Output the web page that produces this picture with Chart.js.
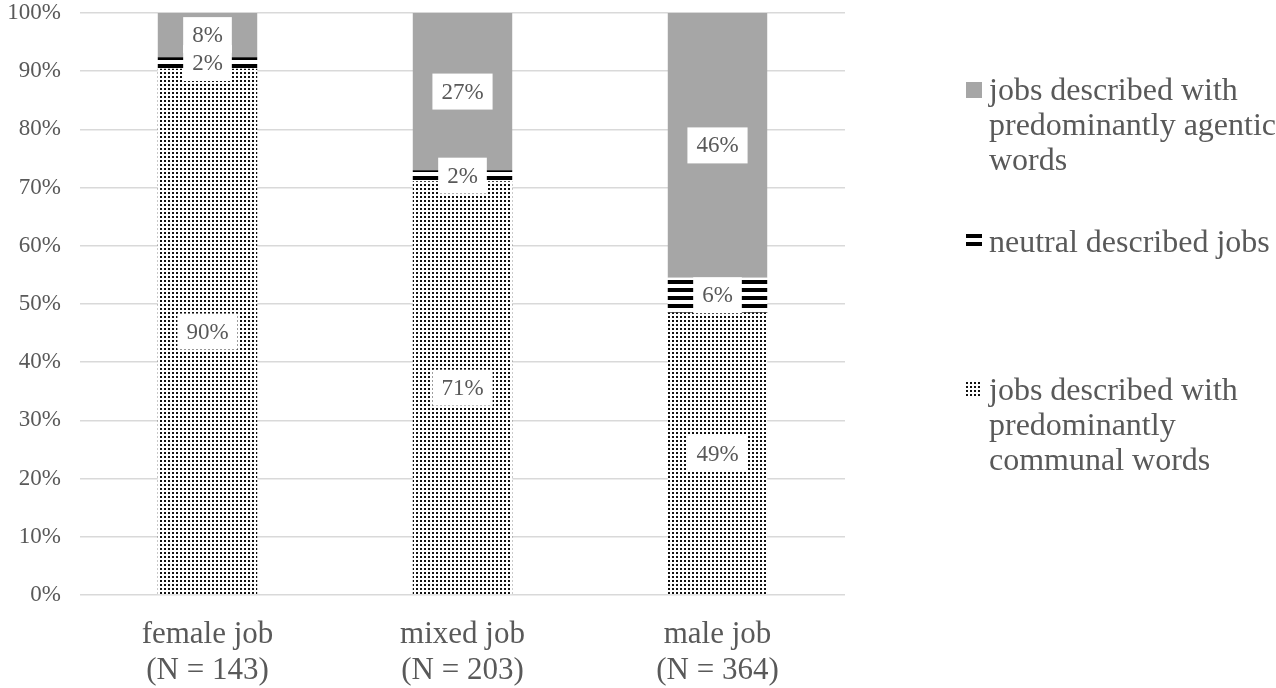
<!DOCTYPE html>
<html>
<head>
<meta charset="utf-8">
<script src="https://cdn.jsdelivr.net/npm/chart.js@4"></script>
<style>
  html, body { margin: 0; padding: 0; background: #fff; }
  #wrap { width: 1276px; height: 688px; }
</style>
</head>
<body>
<div id="wrap"><canvas id="myChart"></canvas></div>
<script>
// Categories (x axis, two lines each)
let jobTypes = [['female job', '(N = 143)'], ['mixed job', '(N = 203)'], ['male job', '(N = 364)']];

// Percent of jobs per description type
let communal = [90.4, 71.1, 48.5];
let neutral = [2.0, 1.9, 6.0];
let agentic = [7.6, 27.0, 45.5];

// Legend text lines
let communalLabel = ['jobs described with', 'predominantly', 'communal words'];
let neutralLabel = ['neutral described jobs'];
let agenticLabel = ['jobs described with', 'predominantly agentic', 'words'];

// Y axis ticks
let yTicks = [0, 10, 20, 30, 40, 50, 60, 70, 80, 90, 100];

const FONT = '"Liberation Serif", "Times New Roman", serif';
const TEXT = '#595959';

// Fill patterns
function dotPattern() {
    let c = document.createElement('canvas');
    c.width = 4; c.height = 4;
    let g = c.getContext('2d');
    g.fillStyle = '#fff';
    g.fillRect(0, 0, 4, 4);
    g.fillStyle = '#111';
    g.fillRect(0, 0, 2, 2);
    return g.createPattern(c, 'repeat');
}
function stripePattern() {
    let c = document.createElement('canvas');
    c.width = 8; c.height = 8;
    let g = c.getContext('2d');
    g.fillStyle = '#fff';
    g.fillRect(0, 0, 8, 8);
    g.fillStyle = '#000';
    g.fillRect(0, 0, 8, 4);
    return g.createPattern(c, 'repeat');
}
let dots = dotPattern();
let stripes = stripePattern();

// Value boxes in the middle of each segment
const boxLabels = {
    id: 'boxLabels',
    afterDatasetsDraw(chart) {
        let ctx = chart.ctx;
        ctx.save();
        ctx.font = '23px ' + FONT;
        ctx.textAlign = 'center';
        ctx.textBaseline = 'middle';
        chart.data.datasets.forEach((ds, i) => {
            chart.getDatasetMeta(i).data.forEach((bar, j) => {
                let txt = Math.round(ds.data[j]) + '%';
                let cy = (bar.y + bar.base) / 2;
                let w = ctx.measureText(txt).width + 18;
                let h = 36;
                ctx.fillStyle = '#fff';
                ctx.fillRect(bar.x - w / 2, cy - h / 2, w, h);
                ctx.fillStyle = TEXT;
                ctx.fillText(txt, bar.x, cy + 1);
            });
        });
        ctx.restore();
    }
};

// Legend on the right, multi-line entries
const sideLegend = {
    id: 'sideLegend',
    afterDraw(chart) {
        let ctx = chart.ctx;
        let items = [
            { ds: 2, lines: agenticLabel, base: 100 },
            { ds: 1, lines: neutralLabel, base: 252 },
            { ds: 0, lines: communalLabel, base: 400 }
        ];
        ctx.save();
        ctx.font = '32px ' + FONT;
        ctx.textBaseline = 'alphabetic';
        ctx.textAlign = 'left';
        items.forEach(it => {
            ctx.save();
            ctx.translate(966, it.base - 18);
            ctx.fillStyle = chart.data.datasets[it.ds].backgroundColor;
            ctx.fillRect(0, 0, 16, 16);
            ctx.restore();
            ctx.fillStyle = TEXT;
            it.lines.forEach((ln, k) => ctx.fillText(ln, 989, it.base + k * 35));
        });
        ctx.restore();
    }
};

let data = {
    labels: jobTypes,
    datasets: [{
        label: communalLabel.join(' '),
        backgroundColor: dots,
        data: communal
    },
    {
        label: neutralLabel.join(' '),
        backgroundColor: stripes,
        data: neutral
    },
    {
        label: agenticLabel.join(' '),
        backgroundColor: '#a6a6a6',
        data: agentic
    }]
};

const config = {
    type: 'bar',
    data: data,
    options: {
        responsive: true,
        maintainAspectRatio: false,
        animation: false,
        layout: { padding: { left: 6, right: 431, top: 13, bottom: 0 } },
        datasets: {
            bar: { categoryPercentage: 1, barPercentage: 0.39, borderWidth: 0 }
        },
        scales: {
            x: {
                stacked: true,
                grid: { display: false },
                border: { display: false },
                ticks: {
                    color: TEXT,
                    font: { family: FONT, size: 31, lineHeight: 1.19 },
                    padding: 13,
                    maxRotation: 0,
                    autoSkip: false
                },
                afterFit: axis => { axis.height = 93; axis.paddingLeft = 0; axis.paddingRight = 0; }
            },
            y: {
                stacked: true,
                min: 0,
                max: 100,
                afterBuildTicks: axis => { axis.ticks = yTicks.map(v => ({ value: v })); },
                grid: { color: '#d9d9d9', lineWidth: 1.5, drawTicks: false },
                border: { display: false },
                ticks: {
                    color: TEXT,
                    font: { family: FONT, size: 23 },
                    padding: 19,
                    callback: v => v + '%'
                },
                afterFit: axis => { axis.width = 74; axis.paddingTop = 0; axis.paddingBottom = 0; }
            }
        },
        plugins: {
            legend: { display: false },
            tooltip: { enabled: false }
        }
    },
    plugins: [boxLabels, sideLegend]
};

const theChart = new Chart(document.getElementById('myChart'), config);
</script>
</body>
</html>
